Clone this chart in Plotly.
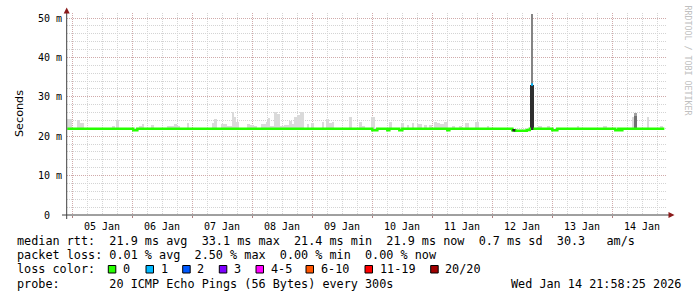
import plotly.graph_objects as go
import pandas as pd

# ---------------- data ----------------
BASE_TIME = pd.Timestamp("2026-01-05 00:00:00")
RANGE_START = pd.Timestamp("2026-01-04 21:58:25")
RANGE_END = pd.Timestamp("2026-01-14 21:58:25")

# smoke bins: hours after 05 Jan 00:00, top of smoke in ms, shade (0 = light outliers, 1 = dense)
smoke_start_h = [-1.9, 2.1, 3.3, 16.1, 17.7, 26.9, 28.1, 31.7, 38.1, 40.9, 42.1, 46.1, 56.1, 56.9,
                 59.7, 62.1, 64.1, 64.9, 65.7, 70.1, 71.3, 72.9, 75.7, 77.7, 78.5, 79.3, 80.9, 82.1,
                 83.3, 84.9, 86.9, 88.1, 88.9, 90.1, 91.3, 94.1, 95.7, 100.1, 101.7, 102.9, 104.1,
                 110.9, 114.9, 116.1, 119.7, 126.9, 131.7, 134.1, 136.1, 138.1, 140.9, 142.9, 144.9,
                 146.1, 147.3, 148.9, 152.1, 154.9, 157.3, 161.3, 166.1, 186.5, 190.1, 202.1, 212.5,
                 224.1, 230.1, 235.3,
                 224.9, 183.6, 224.9, 183.2]
smoke_end_h = [0.1, 3.3, 4.9, 17.3, 18.9, 28.1, 28.9, 32.9, 40.9, 42.1, 43.3, 46.9, 56.9, 58.1,
               62.1, 64.1, 64.9, 65.7, 66.9, 71.3, 72.9, 74.1, 77.7, 78.5, 79.3, 80.9, 82.1, 83.3,
               84.9, 86.9, 88.1, 88.9, 90.1, 91.3, 92.9, 94.9, 96.9, 100.9, 102.9, 104.1, 104.9,
               112.1, 116.1, 117.3, 121.3, 128.1, 132.9, 134.9, 136.9, 140.1, 142.1, 144.1, 146.1,
               147.3, 148.9, 150.5, 153.3, 156.1, 158.9, 162.9, 166.9, 188.1, 191.3, 202.9, 214.1,
               224.9, 230.9, 236.5,
               226.1, 184.4, 226.1, 184.8]
smoke_top_ms = [24.4, 24.0, 23.4, 22.6, 24.2, 22.6, 23.0, 22.9, 22.6, 23.2, 22.5, 23.4, 23.4, 24.4,
                23.1, 22.5, 26.2, 25.0, 23.5, 23.2, 22.9, 22.7, 23.0, 23.6, 24.6, 22.6, 26.1, 25.7,
                22.6, 22.8, 23.8, 23.0, 24.9, 25.4, 26.1, 23.0, 23.3, 23.5, 24.4, 23.3, 23.6,
                25.0, 23.7, 22.6, 25.0, 23.6, 23.4, 22.8, 23.3, 23.0, 22.8, 22.9, 23.7,
                23.4, 23.0, 23.7, 22.6, 22.6, 23.4, 23.6, 22.6, 22.6, 22.6, 22.6, 22.6,
                24.8, 25.0, 22.6,
                26.0, 51.0, 25.1, 33.0]
smoke_shade = [0.0] * 68 + [0.3, 0.45, 0.55, 0.9]
smoke_floor_ms = 21.5

# median rtt (step series, hours after 05 Jan 00:00); None = sample with packet loss
median_h = [-1.9, 24.5, 26.1, 120.1, 122.1, 126.1, 126.9, 130.9, 132.1, 150.1, 150.9, 176.1,
            177.3, 181.9, 183.1, 183.6, 183.6, 184.5, 192.1, 194.1, 217.3, 218.5, 219.3, 220.1, 236.9]
median_ms = [21.9, 21.5, 21.9, 21.5, 21.9, 21.5, 21.9, 21.5, 21.9, 21.5, 21.9, 21.5,
             21.4, 21.6, 21.9, 21.9, None, 21.9, 21.5, 21.9, 21.5, 21.9, 21.5, 21.9, 21.9]
loss1_h = [183.6, 184.4]
loss1_ms = [33.1, 33.1]
dark_h = [176.1, 177.3]
dark_ms = [21.5, 21.5]

y_tick_ms = [0, 10, 20, 30, 40, 50]
y_tick_text = ["0\u00a0\u00a0", "10 m", "20 m", "30 m", "40 m", "50 m"]

loss_labels = ["0", "1", "2", "3", "4-5", "6-10", "11-19", "20/20"]
loss_colors = ["#26ff00", "#00b8ff", "#0059ff", "#7e00ff", "#ff00ff", "#ff5500", "#ff0000", "#a10000"]

rtt_avg, rtt_max, rtt_min, rtt_now, rtt_sd, rtt_ams = 21.9, 33.1, 21.4, 21.9, 0.7, 30.3
loss_avg, loss_max, loss_min, loss_now = 0.01, 2.50, 0.00, 0.00
probe_text = "20 ICMP Echo Pings (56 Bytes) every 300s"
stamp_text = "Wed Jan 14 21:58:25 2026"

# ---------------- layout helpers ----------------
W, H = 697, 297
ML, MR, MT, MB = 67, 30, 13, 82
PW, PH = W - ML - MR, H - MT - MB
MONO = "DejaVu Sans Mono"
SANS = "DejaVu Sans"


def px(x):
    return (x - ML) / PW


def py(y):
    return (H - MB - y) / PH


def t(h):
    return BASE_TIME + pd.to_timedelta(h, unit="h")


def nb(s):
    return s.replace(" ", "\u00a0")


fig = go.Figure()

# smoke
order = sorted(range(len(smoke_start_h)), key=lambda i: smoke_shade[i])
for i in order:
    s, e = t(smoke_start_h[i]), t(smoke_end_h[i])
    g = int(round(218 - smoke_shade[i] * 190))
    fig.add_trace(go.Bar(
        x=[s + (e - s) / 2], y=[(smoke_top_ms[i] - smoke_floor_ms) / 1000],
        base=[smoke_floor_ms / 1000], width=[(e - s).total_seconds() * 1000],
        marker=dict(color=f"rgb({g},{g},{g})", line=dict(width=0)),
        showlegend=False, hoverinfo="skip"))

fig.add_trace(go.Scatter(
    x=[t(h) for h in median_h], y=[None if v is None else v / 1000 for v in median_ms],
    mode="lines", line=dict(color=loss_colors[0], width=2.5, shape="hv"),
    connectgaps=False, showlegend=False, hoverinfo="skip"))
fig.add_trace(go.Scatter(
    x=[t(h) for h in dark_h], y=[v / 1000 for v in dark_ms],
    mode="lines", line=dict(color="#202020", width=2.5), showlegend=False, hoverinfo="skip"))
fig.add_trace(go.Scatter(
    x=[t(h) for h in loss1_h], y=[v / 1000 for v in loss1_ms],
    mode="lines", line=dict(color=loss_colors[1], width=2.5), showlegend=False, hoverinfo="skip"))

GRID = "#d4d4d4"
MGRID = "#d0aaaa"
DASH = "1px,1px"

fig.update_layout(
    width=W, height=H, margin=dict(l=ML, r=MR, t=MT, b=MB, autoexpand=False),
    paper_bgcolor="white", plot_bgcolor="white", barmode="overlay", bargap=0,
    showlegend=False,
    xaxis=dict(
        type="date", range=[RANGE_START, RANGE_END], tick0="2026-01-05", dtick=86400000,
        tickformat="%d %b", ticklabelmode="period", showgrid=True, gridcolor=MGRID,
        griddash=DASH, gridwidth=1, zeroline=False, showline=False,
        ticks="outside", ticklen=2, tickcolor="#b08080",
        tickfont=dict(family=MONO, size=10, color="#000"),
        minor=dict(dtick=6 * 3600 * 1000, tick0="2026-01-05", showgrid=True,
                   gridcolor=GRID, griddash=DASH, ticks=""),
    ),
    yaxis=dict(
        range=[0, PH / 3.94 / 1000], tickvals=[v / 1000 for v in y_tick_ms], ticktext=y_tick_text,
        showgrid=True, gridcolor=MGRID, griddash=DASH, zeroline=False, showline=False,
        ticks="", ticklabelstandoff=4,
        tickfont=dict(family=MONO, size=10, color="#000"),
        minor=dict(dtick=0.002, showgrid=True, gridcolor=GRID, griddash=DASH),
    ),
)

AXIS = "#404040"
ARROW = "#8b1a1a"
shapes = [
    dict(type="line", xref="paper", yref="paper", x0=px(66.7), x1=px(66.7), y0=py(219), y1=py(12),
         line=dict(color=AXIS, width=1)),
    dict(type="line", xref="paper", yref="paper", x0=px(62), x1=px(669), y0=py(215), y1=py(215),
         line=dict(color=AXIS, width=1)),
    dict(type="path", xref="paper", yref="paper",
         path=f"M {px(66.7)} {py(7.5)} L {px(63.7)} {py(13.5)} L {px(69.7)} {py(13.5)} Z",
         fillcolor=ARROW, line=dict(width=0)),
    dict(type="path", xref="paper", yref="paper",
         path=f"M {px(674.5)} {py(215)} L {px(668.5)} {py(212)} L {px(668.5)} {py(218)} Z",
         fillcolor=ARROW, line=dict(width=0)),
]

annotations = []


def ann(text, x, y, size=11.8, anchor="left", color="#000", family=MONO, angle=0):
    annotations.append(dict(text=text, x=px(x), y=py(y), xref="paper", yref="paper",
                            xanchor=anchor, yanchor="middle", showarrow=False,
                            font=dict(family=family, size=size, color=color), textangle=angle))


rtt_line = (f"median rtt:  {rtt_avg:.1f} ms avg  {rtt_max:.1f} ms max  {rtt_min:.1f} ms min  "
            f"{rtt_now:.1f} ms now  {rtt_sd:.1f} ms sd  {rtt_ams:.1f}   am/s")
loss_line = (f"packet loss: {loss_avg:.2f} % avg  {loss_max:.2f} % max  "
             f"{loss_min:.2f} % min  {loss_now:.2f} % now")
ann(nb(rtt_line), 15, 240.7)
ann(nb(loss_line), 15, 255)
ann(nb("loss color:"), 15, 269.3)
ann(nb("probe:       " + probe_text), 15, 284)
ann(nb(stamp_text), 683, 284, anchor="right")

swatch_x = [108.3, 146, 182.7, 219.3, 256, 306, 365, 430.7]
for lab, col, sx in zip(loss_labels, loss_colors, swatch_x):
    shapes.append(dict(type="rect", xref="paper", yref="paper", x0=px(sx), x1=px(sx + 7.5),
                       y0=py(273), y1=py(265.5), fillcolor=col, line=dict(color="#000", width=1)))
    ann(lab, sx + 12.5, 269.3)

ann("Seconds", 11, 113.5, size=11.2, family=SANS, angle=-90)
ann(nb("RRDTOOL / TOBI OETIKER"), 687.5, 60, size=8.3, color="#c0c0c0", angle=90, anchor="center")

fig.update_layout(shapes=shapes, annotations=annotations)
fig.write_html("out.html")
